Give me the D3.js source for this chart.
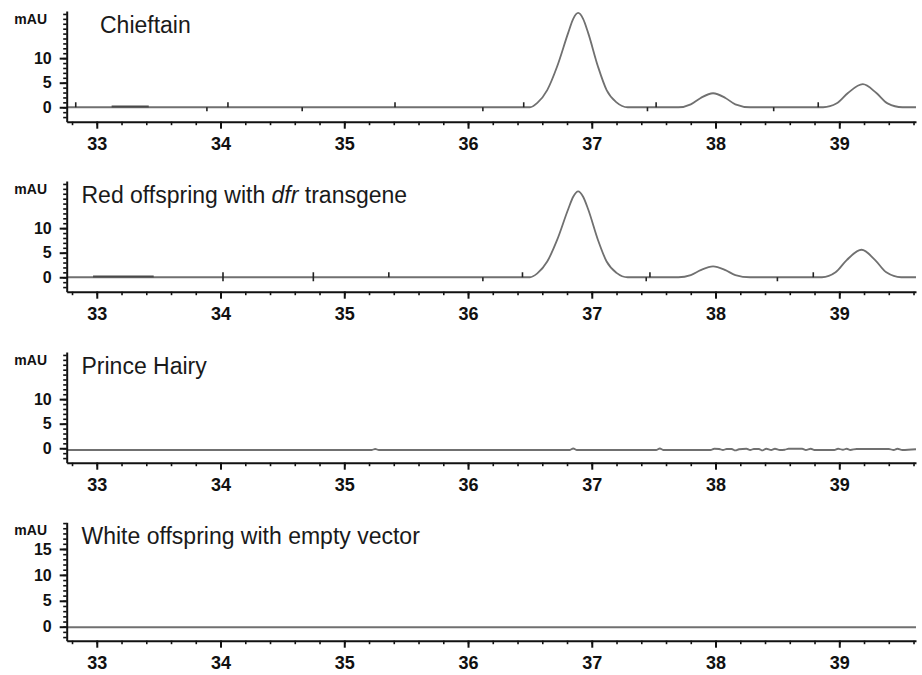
<!DOCTYPE html>
<html>
<head>
<meta charset="utf-8">
<script src="https://cdn.jsdelivr.net/npm/d3@7"></script>
<style>
  body { margin: 0; background: #fff; }
  svg { display: block; }
  .tick text { font-family: "Liberation Sans", Arial, sans-serif; font-weight: bold; fill: #111; }
  .xlab .tick text { font-family: "Liberation Sans Narrow", "Liberation Sans", Arial, sans-serif; }
</style>
</head>
<body>
<svg width="922" height="675"></svg>
<script>
// retention time window (min) and tick labels
const timeRange = [32.757, 39.62];
const timeTicks = [33, 34, 35, 36, 37, 38, 39];

const titles = ["Chieftain", "Red offspring with |dfr| transgene", "Prince Hairy", "White offspring with empty vector"];
const yTicks = [[0, 5, 10], [0, 5, 10], [0, 5, 10], [0, 5, 10, 15]];
const yMax = [19.6, 19.6, 19.6, 20.15];
const yMin = [-2.94, -2.94, -2.94, -2.7];

// traces: [time, mAU]
const chieftain = [
  [32.76, 0], [36.50, 0], [36.56, 0.9], [36.64, 3.5], [36.72, 8.3], [36.81, 15.2], [36.85, 18.0],
  [36.89, 19.2], [36.93, 18.0], [36.97, 15.2], [37.05, 8.3], [37.12, 3.5], [37.20, 1.0], [37.29, 0],
  [37.70, 0], [37.80, 0.6], [37.88, 1.9], [37.98, 2.85], [38.08, 1.9], [38.16, 0.6], [38.28, 0],
  [38.87, 0], [38.98, 0.8], [39.07, 2.9], [39.19, 4.7], [39.30, 2.9], [39.39, 0.8], [39.51, 0], [39.62, 0]
];
const redOffspring = [
  [32.76, 0], [36.50, 0], [36.56, 0.8], [36.64, 3.2], [36.72, 7.6], [36.81, 13.9], [36.85, 16.4],
  [36.89, 17.5], [36.93, 16.4], [36.97, 13.9], [37.05, 7.6], [37.12, 3.2], [37.20, 0.9], [37.29, 0],
  [37.70, 0], [37.80, 0.45], [37.88, 1.45], [37.98, 2.2], [38.08, 1.45], [38.16, 0.45], [38.28, 0],
  [38.86, 0], [38.97, 1.0], [39.06, 3.5], [39.18, 5.6], [39.29, 3.5], [39.38, 1.0], [39.50, 0], [39.62, 0]
];
const princeHairy = [
  [32.76, -0.35], [35.22, -0.35], [35.25, -0.15], [35.28, -0.35], [36.82, -0.35], [36.85, -0.05],
  [36.88, -0.35], [37.52, -0.35], [37.55, -0.05], [37.58, -0.35], [37.96, -0.35], [37.99, -0.1],
  [38.03, -0.15], [38.06, -0.35], [38.09, -0.15], [38.13, -0.15], [38.16, -0.45], [38.19, -0.2],
  [38.25, -0.1], [38.28, -0.35], [38.31, -0.15], [38.35, -0.15], [38.38, -0.45], [38.41, -0.1],
  [38.45, -0.35], [38.48, -0.1], [38.52, -0.35], [38.56, -0.3], [38.59, -0.1], [38.70, -0.1],
  [38.73, -0.35], [38.77, -0.1], [38.80, -0.35], [38.96, -0.35], [38.99, -0.1], [39.03, -0.3],
  [39.06, -0.1], [39.09, -0.35], [39.14, -0.15], [39.40, -0.15], [39.44, -0.35], [39.47, -0.1],
  [39.51, -0.35], [39.62, -0.2]
];
const whiteOffspring = [[32.76, -0.1], [39.62, -0.1]];
const traces = [chieftain, redOffspring, princeHairy, whiteOffspring];

// integration event marks on the baseline: [time, direction]
const marks1 = [[32.83, "up"], [33.89, "down"], [34.06, "up"], [34.66, "down"], [35.41, "up"],
  [36.12, "down"], [36.45, "up"], [37.45, "down"], [37.52, "up"], [38.47, "down"], [38.83, "up"]];
const marks2 = [[34.02, "both"], [34.75, "both"], [35.36, "up"], [36.12, "down"], [36.44, "up"],
  [37.44, "down"], [37.47, "up"], [38.50, "down"], [38.79, "up"]];
const marks = [marks1, marks2, [], []];
// darker baseline segments
const segments = [[33.12, 33.42], [32.97, 33.46], null, null];

// layout: [axis top, x-axis y]
const panelBox = [[11, 121.7], [181, 291.7], [352, 462.7], [522.3, 640.7]];

const svg = d3.select("svg");
const x = d3.scaleLinear().domain(timeRange).range([66.7, 916]);

const line = d3.line()
  .x(d => x(d[0]))
  .curve(d3.curveMonotoneX);

titles.forEach((title, i) => {
  const [top, bottom] = panelBox[i];
  const y = d3.scaleLinear().domain([yMin[i], yMax[i]]).range([bottom, top]);
  const g = svg.append("g");

  // trace
  g.append("path")
    .datum(traces[i])
    .attr("fill", "none")
    .attr("stroke", "#707070")
    .attr("stroke-width", 1.8)
    .attr("d", line.y(d => y(d[1])));

  if (segments[i]) {
    g.append("line")
      .attr("x1", x(segments[i][0])).attr("x2", x(segments[i][1]))
      .attr("y1", y(0.15)).attr("y2", y(0.15))
      .attr("stroke", "#4a4a4a").attr("stroke-width", 2);
  }

  g.selectAll(".mark")
    .data(marks[i])
    .join("line")
    .attr("x1", d => x(d[0])).attr("x2", d => x(d[0]))
    .attr("y1", d => y(0) + (d[1] === "up" ? 0 : 4))
    .attr("y2", d => y(0) - (d[1] === "down" ? 0 : 5))
    .attr("stroke", "#222").attr("stroke-width", 1.6);

  // x axis: minor then major
  const minor = d3.range(32.8, 39.61, 0.2);
  g.append("g")
    .attr("transform", `translate(0,${bottom})`)
    .call(d3.axisBottom(x).tickValues(minor).tickSize(3.5).tickSizeOuter(0).tickFormat(""))
    .call(a => a.select(".domain").attr("stroke-width", 2).attr("stroke", "#111"))
    .call(a => a.selectAll(".tick line").attr("stroke-width", 1.6).attr("stroke", "#111"));
  g.append("g")
    .attr("class", "xlab")
    .attr("transform", `translate(0,${bottom})`)
    .call(d3.axisBottom(x).tickValues(timeTicks).tickSize(7).tickSizeOuter(0).tickPadding(9)
      .tickFormat(d3.format("d")))
    .call(a => a.select(".domain").remove())
    .call(a => a.selectAll(".tick line").attr("stroke-width", 2).attr("stroke", "#111"))
    .call(a => a.selectAll(".tick text").style("font-size", "18px"));

  // y axis
  const yMinor = d3.range(Math.ceil(yMin[i]), Math.floor(yMax[i]) + 1);
  g.append("g")
    .attr("transform", "translate(66.7,0)")
    .call(d3.axisLeft(y).tickValues(yMinor).tickSize(3.5).tickSizeOuter(0).tickFormat(""))
    .call(a => a.select(".domain").attr("stroke-width", 2).attr("stroke", "#111"))
    .call(a => a.selectAll(".tick line").attr("stroke-width", 1.6).attr("stroke", "#111"));
  g.append("g")
    .attr("transform", "translate(66.7,0)")
    .call(d3.axisLeft(y).tickValues(yTicks[i]).tickSize(7).tickSizeOuter(0).tickPadding(8))
    .call(a => a.select(".domain").remove())
    .call(a => a.selectAll(".tick line").attr("stroke-width", 2).attr("stroke", "#111"))
    .call(a => a.selectAll(".tick text").style("font-size", "16px"));

  g.append("text")
    .attr("x", 47).attr("y", top + 13)
    .attr("text-anchor", "end")
    .style("font-family", "Liberation Sans, Arial, sans-serif")
    .style("font-weight", "bold")
    .style("font-size", "14px")
    .attr("fill", "#111")
    .text("mAU");

  // panel title, |...| parts in italics
  const t = g.append("text")
    .attr("x", i === 0 ? 100 : 81.5)
    .attr("y", top + 22)
    .style("font-family", "Liberation Sans, Arial, sans-serif")
    .style("font-size", "23px")
    .attr("fill", "#1a1a1a");
  title.split("|").forEach((part, k) => {
    t.append("tspan").attr("font-style", k % 2 ? "italic" : "normal").text(part);
  });
});
</script>
</body>
</html>
